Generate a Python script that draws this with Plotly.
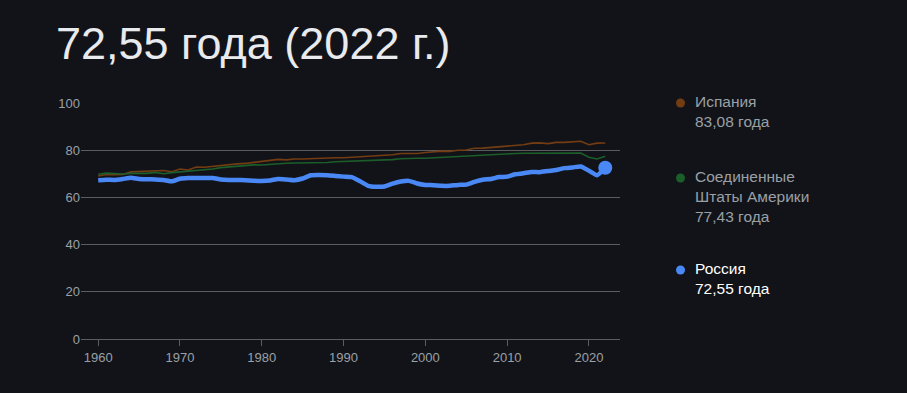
import plotly.graph_objects as go

years = list(range(1960, 2023))

spain = [69.1, 69.7, 69.6, 69.7, 70.8, 71.0, 71.3, 71.5, 71.4, 70.9,
         72.0, 71.6, 72.9, 72.8, 73.2, 73.3, 73.7, 74.2, 74.4, 74.8,
         75.4, 75.6, 76.1, 75.9, 76.3, 76.3, 76.5, 76.7, 76.8, 76.8,
         76.8, 77.0, 77.4, 77.6, 77.9, 78.0, 78.1, 78.6, 78.6, 78.6,
         79.0, 79.4, 79.6, 79.5, 80.0, 80.1, 80.8, 80.9, 81.2, 81.6,
         81.8, 82.3, 82.3, 83.0, 83.1, 82.8, 83.3, 83.3, 83.4, 83.8,
         82.3, 83.0, 83.08]

usa = [69.8, 70.3, 70.1, 69.9, 70.2, 70.2, 70.2, 70.6, 70.0, 70.5,
       70.8, 71.1, 71.2, 71.4, 72.0, 72.6, 72.9, 73.3, 73.4, 73.8,
       73.7, 74.0, 74.4, 74.5, 74.6, 74.6, 74.6, 74.8, 74.8, 75.1,
       75.2, 75.4, 75.6, 75.4, 75.6, 75.6, 76.0, 76.4, 76.6, 76.6,
       76.6, 76.8, 76.9, 77.0, 77.5, 77.5, 77.7, 77.9, 78.0, 78.4,
       78.5, 78.6, 78.7, 78.7, 78.8, 78.7, 78.5, 78.5, 78.6, 78.8,
       77.0, 76.3, 77.43]

russia = [67.3, 67.5, 67.4, 67.8, 68.3, 67.8, 67.7, 67.6, 67.4, 66.8,
          67.9, 68.2, 68.2, 68.2, 68.2, 67.6, 67.4, 67.4, 67.3, 67.1,
          67.0, 67.2, 67.8, 67.6, 67.3, 68.0, 69.4, 69.5, 69.4, 69.1,
          68.8, 68.6, 66.9, 64.9, 64.5, 64.6, 65.8, 66.7, 67.0, 65.9,
          65.3, 65.2, 64.9, 64.9, 65.3, 65.4, 66.6, 67.5, 67.8, 68.6,
          68.8, 69.8, 70.2, 70.8, 70.7, 71.2, 71.6, 72.4, 72.7, 73.1,
          71.3, 69.4, 72.55]

names = ["Испания", "Соединенные<br>Штаты Америки", "Россия"]
last_labels = ["83,08 года", "77,43 года", "72,55 года"]
title_text = "72,55 года (2022 г.)"

c_spain = "#733c12"
c_usa = "#1b5e2a"
c_russia = "#4a89f5"
bg = "#121318"
grid = "#5a5c60"
txt = "#9aa0a6"

fig = go.Figure()
fig.add_trace(go.Scatter(x=years, y=spain, mode="lines",
                         line=dict(color=c_spain, width=1.6), hoverinfo="skip"))
fig.add_trace(go.Scatter(x=years, y=usa, mode="lines",
                         line=dict(color=c_usa, width=1.6), hoverinfo="skip"))
fig.add_trace(go.Scatter(x=years, y=russia, mode="lines",
                         line=dict(color=c_russia, width=4.5, shape="spline", smoothing=0.5),
                         hoverinfo="skip"))
fig.add_trace(go.Scatter(x=[years[-1]], y=[russia[-1]], mode="markers",
                         marker=dict(color=c_russia, size=14), hoverinfo="skip"))

font = "Liberation Sans, Arial, sans-serif"

fig.update_layout(
    width=907, height=393,
    paper_bgcolor=bg, plot_bgcolor=bg,
    showlegend=False,
    margin=dict(l=81, r=287, t=103, b=54),
    font=dict(family=font, color=txt, size=13),
    xaxis=dict(range=[1957.9, 2023.8], tickvals=[1960, 1970, 1980, 1990, 2000, 2010, 2020],
               showgrid=False, zeroline=False, showline=False,
               ticks="outside", ticklen=6, tickcolor=grid, tickwidth=1.3,
               tickfont=dict(size=13, color=txt), fixedrange=True),
    yaxis=dict(range=[0, 100], tickvals=[0, 20, 40, 60, 80, 100],
               showgrid=True, gridcolor=grid, gridwidth=1.4,
               zeroline=True, zerolinecolor=grid, zerolinewidth=1.4,
               showline=False, ticks="", ticksuffix=" ",
               tickfont=dict(size=13, color=txt), fixedrange=True),
)

fig.add_annotation(text=title_text, xref="paper", yref="paper", x=-0.05, y=1.0,
                   xanchor="left", yanchor="bottom", yshift=32, showarrow=False,
                   font=dict(size=45, color="#e8eaed", family=font))

colors = [c_spain, c_usa, c_russia]
dot_y = [103, 178, 270]
text_colors = [txt, txt, "#ffffff"]
for nm, lab, col, dy, tc in zip(names, last_labels, colors, dot_y, text_colors):
    fig.add_shape(type="circle", xref="paper", yref="paper",
                  x0=(676 - 81) / 539, x1=(685 - 81) / 539,
                  y0=(339 - dy - 4.5) / 236, y1=(339 - dy + 4.5) / 236,
                  fillcolor=col, line=dict(width=0))
    fig.add_annotation(text=nm + "<br>" + lab, xref="paper", yref="paper",
                       x=(693 - 81) / 539, y=(339 - dy + 12) / 236,
                       xanchor="left", yanchor="top", align="left", showarrow=False,
                       font=dict(size=15.5, color=tc, family=font))

fig.write_html("out.html", config={"displayModeBar": False},
               post_script="document.body.style.margin='0';document.body.style.background='#121318';")
